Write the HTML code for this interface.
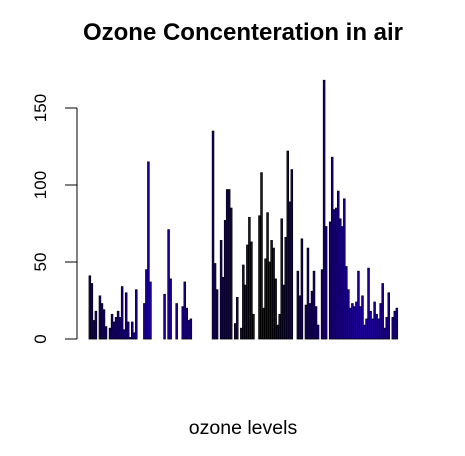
<!DOCTYPE html>
<html><head><meta charset="utf-8"><style>body{margin:0;background:#fff}svg{display:block}</style></head>
<body>
<svg id="c" width="465" height="456" xmlns="http://www.w3.org/2000/svg" font-family="Liberation Sans, sans-serif">
<text x="243" y="40" text-anchor="middle" font-weight="bold" font-size="24">Ozone Concenteration in air</text>
<text x="243" y="434" text-anchor="middle" font-size="19.5">ozone levels</text>
<g id="bars"></g>
<g id="yaxis"></g>
</svg>
<script>
const ozone=[41,36,12,18,null,28,23,19,8,null,7,16,11,14,18,14,34,6,30,11,1,11,4,32,null,null,null,23,45,115,37,null,null,null,null,null,null,29,null,71,39,null,null,23,null,null,21,37,20,12,13,null,null,null,null,null,null,null,null,null,null,135,49,32,null,64,40,77,97,97,85,null,10,27,null,7,48,35,61,79,63,16,null,null,80,108,20,52,82,50,64,59,39,9,16,78,35,66,122,89,110,null,null,44,28,65,null,22,59,23,31,44,21,9,null,45,168,73,null,76,118,84,85,96,78,73,91,47,32,20,23,21,24,44,21,28,9,13,46,18,13,24,16,13,23,36,7,14,30,null,14,18,20];
const yTicks=[0,50,100,150];
const NS="http://www.w3.org/2000/svg";
const x0=89,x1=398,y0=339,yScale=231/150;
const total=ozone.length*1.2+0.2;
const xs=u=>x0+(u-0.2)*(x1-x0)/(total-0.2);
const ys=v=>y0-v*yScale;
const g=document.getElementById('bars');
ozone.forEach((v,i)=>{
  if(v==null)return;
  const l=xs(0.2+i*1.2),r=xs(1.2+i*1.2);
  const rc=document.createElementNS(NS,'rect');
  rc.setAttribute('x',l);rc.setAttribute('y',ys(v));
  rc.setAttribute('width',r-l);rc.setAttribute('height',y0-ys(v));
  rc.setAttribute('fill','#2200aa');rc.setAttribute('stroke','#000');rc.setAttribute('stroke-width','0.8');
  
  
  g.appendChild(rc);
});
const ya=document.getElementById('yaxis');
const ax=77;
const ln=document.createElementNS(NS,'line');
ln.setAttribute('x1',ax);ln.setAttribute('x2',ax);ln.setAttribute('y1',ys(yTicks[0]));ln.setAttribute('y2',ys(yTicks[yTicks.length-1]));ln.setAttribute('stroke','#000');


ya.appendChild(ln);
yTicks.forEach(t=>{
  const tk=document.createElementNS(NS,'line');
  tk.setAttribute('x1',ax-12);tk.setAttribute('x2',ax);tk.setAttribute('y1',ys(t));tk.setAttribute('y2',ys(t));tk.setAttribute('stroke','#000');
  
  
  ya.appendChild(tk);
  const tx=document.createElementNS(NS,'text');
  tx.setAttribute('transform','translate(46,'+ys(t)+') rotate(-90)');
  tx.setAttribute('text-anchor','middle');tx.setAttribute('font-size','17');
  tx.textContent=t;
  
  
  ya.appendChild(tx);
});
</script>
</body></html>
